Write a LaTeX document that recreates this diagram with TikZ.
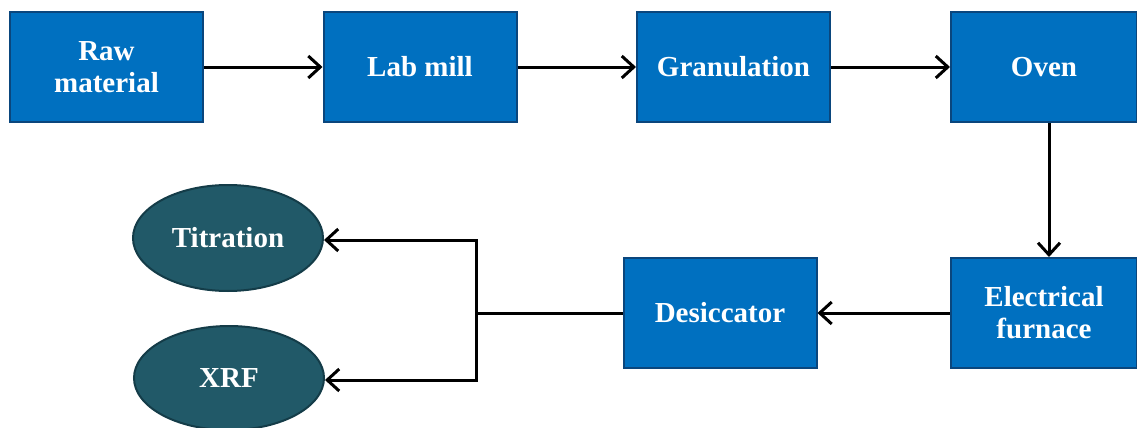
\documentclass[tikz,border=0pt]{standalone}
\usepackage{fontspec}
\setmainfont{Liberation Serif}
\usetikzlibrary{arrows.meta,shapes.geometric}

\definecolor{boxblue}{RGB}{0,112,192}
\definecolor{boxedge}{RGB}{10,70,125}
\definecolor{ovalteal}{RGB}{33,89,104}
\definecolor{ovaledge}{RGB}{20,60,72}

\tikzset{
  stepbox/.style={rectangle,fill=boxblue,draw=boxedge,line width=1pt,
    minimum width=96.5pt,minimum height=55pt,inner sep=0pt,
    text=white,font=\fontsize{14.5}{16}\selectfont\bfseries,align=center},
  testoval/.style={ellipse,fill=ovalteal,draw=ovaledge,line width=1pt,
    minimum width=95pt,minimum height=53pt,inner sep=0pt,
    text=white,font=\fontsize{14.5}{16}\selectfont\bfseries},
  flow/.style={line width=1.5pt,-{Straight Barb[length=6pt,width=11pt,line width=1.5pt]}}
}

\begin{document}
\begin{tikzpicture}[x=0.5pt,y=-0.5pt]
  \useasboundingbox (0,0) rectangle (1137,428);

  % Top row
  \node[stepbox] (raw)  at (106.5,67) {Raw\\material};
  \node[stepbox] (mill) at (420,67)   {Lab mill};
  \node[stepbox] (gran) at (733.5,67) {Granulation};
  \node[stepbox,minimum width=93pt] (oven) at (1044,67) {Oven};

  % Bottom row
  \node[stepbox,minimum width=93pt] (furnace) at (1044,313) {Electrical\\furnace};
  \node[stepbox] (desic) at (720,313) {Desiccator};

  % Analyses
  \node[testoval] (titr) at (228,238) {Titration};
  \node[testoval,minimum height=52pt] (xrf) at (229,378) {XRF};

  \coordinate (split) at (476,313);

  % Connectors
  \draw[flow] (raw) -- (mill);
  \draw[flow] (mill) -- (gran);
  \draw[flow] (gran) -- (oven);
  \draw[flow] (oven.south -| 1049,0) -- (furnace.north -| 1049,0);
  \draw[flow] (furnace) -- (desic);
  \draw[line width=1.5pt] (desic.west) -- (split);
  \draw[flow] (split) |- ([yshift=-1pt]titr.east);
  \draw[flow] (split) |- ([yshift=-1pt]xrf.east);
\end{tikzpicture}
\end{document}
